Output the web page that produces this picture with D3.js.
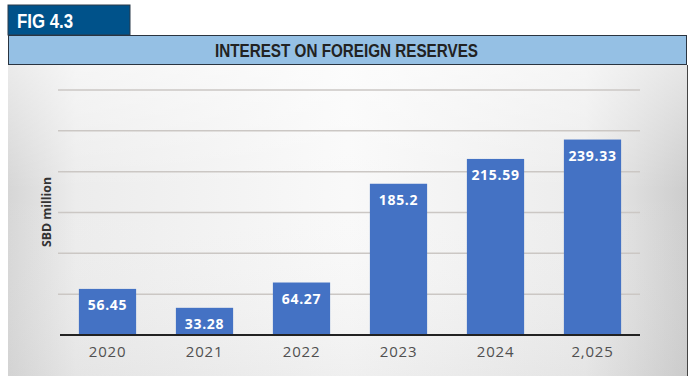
<!DOCTYPE html>
<html><head><meta charset="utf-8">
<script src="https://cdn.jsdelivr.net/npm/d3@7"></script>
<style>body{margin:0;background:#fff;}svg{display:block;}</style>
</head><body>
<svg id="c" width="691" height="379"></svg>
<script>
const categories = ["2020","2021","2022","2023","2024","2,025"];
const values = [56.45, 33.28, 64.27, 185.2, 215.59, 239.33];
const valueLabels = ["56.45","33.28","64.27","185.2","215.59","239.33"];
const gridTicks = [50,100,150,200,250,300];

const svg = d3.select("#c");
const defs = svg.append("defs");
const g1 = defs.append("linearGradient").attr("id","bg").attr("x1","0").attr("x2","1").attr("y1","0").attr("y2","0");
[[0,"#d6d6d6"],[0.1,"#ececec"],[0.5,"#f9f9f9"],[0.85,"#ececec"],[1,"#cdcdcd"]].forEach(([o,c])=>g1.append("stop").attr("offset",o).attr("stop-color",c));
const g2 = defs.append("linearGradient").attr("id","bgv").attr("x1","0").attr("x2","0").attr("y1","0").attr("y2","1");
[[0,"#ffffff",0.5],[0.4,"#ffffff",0],[1,"#c4c4c4",0.18]].forEach(([o,c,op])=>g2.append("stop").attr("offset",o).attr("stop-color",c).attr("stop-opacity",op));

// chart area background
svg.append("rect").attr("x",8).attr("y",65).attr("width",679).attr("height",311).attr("fill","url(#bg)");
svg.append("rect").attr("x",8).attr("y",65).attr("width",679).attr("height",311).attr("fill","url(#bgv)");
svg.append("line").attr("x1",687.5).attr("x2",687.5).attr("y1",65).attr("y2",376).attr("stroke","#444").attr("stroke-width",1);

// tab
svg.append("rect").attr("x",8).attr("y",5).attr("width",122).attr("height",30).attr("fill","#00528a").attr("stroke","#2a3a4a").attr("stroke-width",1);
svg.append("text").attr("x",17).attr("y",28).attr("fill","#fff").attr("font-family","'Liberation Sans',Arial,sans-serif").attr("font-weight","bold").attr("font-size",20).attr("textLength",56).attr("lengthAdjust","spacingAndGlyphs").text("FIG 4.3");

// title band
svg.append("rect").attr("x",8.5).attr("y",35.5).attr("width",678).attr("height",29).attr("fill","#95c0e4").attr("stroke","#2a3440").attr("stroke-width",1);
svg.append("text").attr("x",215).attr("y",57).attr("fill","#222").attr("font-family","'Liberation Sans',Arial,sans-serif").attr("font-weight","bold").attr("font-size",18).attr("textLength",263).attr("lengthAdjust","spacingAndGlyphs").text("INTEREST ON FOREIGN RESERVES");

const x = d3.scaleBand().domain(categories).range([59,641]).paddingInner(0.41).paddingOuter(0.205);
const y = d3.scaleLinear().domain([0,300]).range([335,90]);

// gridlines
svg.append("g").selectAll("line").data(gridTicks).join("line")
  .attr("x1",58).attr("x2",640).attr("y1",d=>y(d)).attr("y2",d=>y(d))
  .attr("stroke","#cbc7c4").attr("stroke-width",1.5);

// bars
svg.append("g").selectAll("rect").data(values).join("rect")
  .attr("x",(d,i)=>x(categories[i])).attr("width",x.bandwidth())
  .attr("y",d=>y(d)).attr("height",d=>y(0)-y(d)).attr("fill","#4472c4");

// value labels
svg.append("g").selectAll("text").data(values).join("text")
  .attr("x",(d,i)=>x(categories[i])+x.bandwidth()/2).attr("y",d=>y(d)+21)
  .attr("text-anchor","middle").attr("fill","#fff").attr("font-family","'Open Sans','Noto Sans',sans-serif")
  .attr("font-weight","bold").attr("font-size",14).attr("letter-spacing",0.7).text((d,i)=>valueLabels[i]);

// baseline
svg.append("line").attr("x1",60).attr("x2",640).attr("y1",y(0)).attr("y2",y(0)).attr("stroke","#222").attr("stroke-width",2);

// x axis labels
const xAxis = d3.axisBottom(x).tickSize(0).tickPadding(11);
const xg = svg.append("g").attr("transform",`translate(0,${y(0)})`).call(xAxis);
xg.select(".domain").remove();
xg.selectAll("text").attr("fill","#505050").attr("font-family","'Open Sans','Noto Sans',sans-serif").attr("font-size",15).attr("letter-spacing",0.8);

// y label
svg.append("text").attr("transform","translate(51,212) rotate(-90)").attr("text-anchor","middle")
  .attr("fill","#333").attr("font-family","'Open Sans','Noto Sans',sans-serif").attr("font-weight","bold").attr("font-size",13).attr("textLength",70).attr("lengthAdjust","spacingAndGlyphs").text("SBD million");
</script>
</body></html>
